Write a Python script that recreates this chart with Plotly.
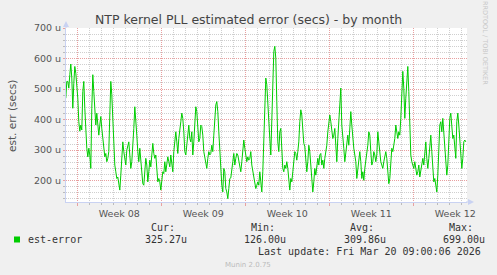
import plotly.graph_objects as go
import pandas as pd

# ---- data (microseconds, 2-hour samples) ----
seg1 = [470, 525, 525, 503, 547, 582, 536, 437, 519, 574,
        552, 519, 470, 393, 362, 382, 366, 492, 525, 437,
        349, 306, 278, 306, 284, 240, 437, 547, 492, 415,
        382, 421, 393, 349, 382, 410, 371, 338, 306, 278,
        289, 262, 273, 295, 415, 525, 481, 393, 316, 251,
        229, 207, 212, 185, 169, 218, 295, 327, 295, 262,
        251, 300, 316, 327, 284, 240, 262, 306, 371, 442,
        404, 349, 295, 262, 306, 273, 229, 190, 185]
seg2 = [229, 273, 251, 196, 229, 267, 245, 284, 322, 289,
        273, 284, 240, 196, 207, 196, 169, 207, 229, 223,
        262, 229, 251, 278, 262, 245, 284, 251, 229, 295,
        338, 360, 327, 289, 338, 382, 393, 421, 404, 360,
        295, 284, 327, 360, 382, 338, 327, 360, 284, 327,
        382, 442, 426, 382, 327, 338, 382, 377, 349, 295,
        273, 251, 240, 273, 295, 284, 289, 316, 295, 349,
        415, 448, 459, 426, 360, 295, 240, 185, 163, 240]
seg3 = [229, 174, 163, 141, 174, 207, 209, 251, 262, 289,
        251, 273, 289, 284, 262, 240, 229, 262, 295, 333,
        306, 284, 262, 278, 267, 273, 295, 251, 229, 223,
        201, 174, 185, 196, 185, 229, 196, 163, 229, 349,
        459, 536, 514, 437, 393, 338, 284, 426, 547, 623,
        640, 601, 459, 327, 295, 360, 371, 306, 240, 229,
        251, 240, 262, 240, 207, 169, 207, 196, 229, 262,
        295, 289, 267, 295, 327, 393, 432, 415, 349, 322,
        311]
seg4 = [273, 229, 262, 316, 295, 251, 196, 163, 196, 240,
        218, 251, 273, 251, 284, 289, 251, 267, 240, 273,
        295, 316, 360, 388, 415, 393, 360, 338, 349, 371,
        316, 262, 338, 382, 437, 503, 382, 327, 306, 262,
        295, 327, 349, 316, 382, 426, 382, 327, 306, 284,
        262, 207, 240, 262, 295, 262, 207, 229, 201, 240,
        262, 295, 316, 360, 349, 295, 251, 262, 295, 284,
        262, 284, 360, 327, 284, 262, 251, 240, 262, 284]
seg5 = [295, 273, 229, 190, 207, 251, 306, 295, 316, 338,
        382, 360, 338, 360, 349, 404, 492, 558, 503, 404,
        470, 536, 574, 492, 382, 284, 262, 251, 240, 262,
        245, 218, 229, 251, 212, 229, 251, 273, 251, 306,
        327, 273, 240, 273, 306, 349, 295, 251, 196, 207,
        185, 163, 218, 306, 382, 393, 360, 404, 349, 306,
        251, 218, 251, 338, 404, 421, 382, 338, 349, 306,
        273, 393, 421, 382, 338, 295, 240, 273, 327, 333,
        327]
est_error_u = seg1 + seg2 + seg3 + seg4 + seg5
last_sample = "2026-03-20 09:00"

y_tick_vals = [200, 300, 400, 500, 600, 700]
y_tick_text = ["200 u", "300 u", "400 u", "500 u", "600 u", "700 u"]
week_starts = ["2026-02-16", "2026-02-23", "2026-03-02", "2026-03-09", "2026-03-16"]
week_label_pos = ["2026-02-19 12:00", "2026-02-26 12:00", "2026-03-05 12:00",
                  "2026-03-12 12:00", "2026-03-19 12:00"]
week_labels = ["Week 08", "Week 09", "Week 10", "Week 11", "Week 12"]

series_name = "est-error"
stat_labels = ["Cur:", "Min:", "Avg:", "Max:"]
stat_values = ["325.27u", "126.00u", "309.86u", "699.00u"]
last_update = "Last update: Fri Mar 20 09:00:06 2026"
title_text = "NTP kernel PLL estimated error (secs) - by month"
y_title = "est. err (secs)"
credit = "Munin 2.0.75"
side_text = "RRDTOOL / TOBI OETIKER"

# ---- geometry ----
W, H = 497, 275
L, R, T, B = 66, 467, 28, 202
X_RANGE = ["2026-02-15 01:24", "2026-03-20 11:24"]
Y_RANGE = [130, 700]


def px(x):
    return (x - L) / (R - L)


def py(y):
    return (B - y) / (B - T)


times = pd.date_range(end=last_sample, periods=len(est_error_u), freq="2h")

GREEN = "#00CC00"
AXIS = "#C9D2F2"
MGRID = "#E8A0A0"
GRID = "#CFCFCF"
TXT = "#333333"
TICK = "#555555"

fig = go.Figure()
fig.add_trace(go.Scatter(x=times, y=est_error_u, mode="lines",
                         line=dict(color=GREEN, width=1), name=series_name,
                         showlegend=False, hoverinfo="skip"))
# invisible helper trace so the label axis (x2) is drawn
fig.add_trace(go.Scatter(x=X_RANGE, y=Y_RANGE, xaxis="x2", mode="markers",
                         marker=dict(opacity=0, size=1), showlegend=False,
                         hoverinfo="skip"))

fig.update_layout(
    width=W, height=H, autosize=False,
    margin=dict(l=L, r=W - R, t=T, b=H - B, pad=0),
    paper_bgcolor="#F0F0F0", plot_bgcolor="#FFFFFF",
    showlegend=False,
    xaxis=dict(type="date", range=X_RANGE, tickmode="array", tickvals=week_starts,
               showticklabels=False, showgrid=True, gridcolor=MGRID, griddash="1px,1px",
               gridwidth=1, zeroline=False, showline=True, linecolor=AXIS, linewidth=1,
               ticks="outside", ticklen=3, tickcolor=MGRID,
               minor=dict(tickmode="linear", tick0="2026-02-16", dtick=86400000,
                          showgrid=True, gridcolor=GRID, griddash="1px,1px",
                          ticks="outside", ticklen=2, tickcolor="#BBBBBB")),
    xaxis2=dict(type="date", range=X_RANGE, overlaying="x", anchor="y", side="bottom",
                tickmode="array", tickvals=week_label_pos, ticktext=week_labels,
                showgrid=False, zeroline=False, showline=False, ticks="",
                ticklabelstandoff=4,
                tickfont=dict(family="DejaVu Sans", size=9.5, color=TICK)),
    yaxis=dict(range=Y_RANGE, tickmode="array", tickvals=y_tick_vals, ticktext=y_tick_text,
               showgrid=True, gridcolor=MGRID, griddash="1px,1px", zeroline=False,
               showline=True, linecolor=AXIS, linewidth=1,
               ticks="outside", ticklen=2, tickcolor=MGRID,
               tickfont=dict(family="DejaVu Sans", size=9.5, color=TICK),
               minor=dict(tickmode="linear", tick0=0, dtick=20, showgrid=True,
                          gridcolor=GRID, griddash="1px,1px",
                          ticks="outside", ticklen=2, tickcolor="#BBBBBB")),
)

# axis arrows
fig.add_shape(type="path", xref="paper", yref="paper",
              path=f"M {px(63)},{py(27)} L {px(69)},{py(27)} L {px(66)},{py(21)} Z",
              fillcolor=AXIS, line=dict(width=0))
fig.add_shape(type="line", xref="paper", yref="paper", x0=px(66), x1=px(66),
              y0=py(28), y1=py(26), line=dict(color=AXIS, width=1))
fig.add_shape(type="path", xref="paper", yref="paper",
              path=f"M {px(468)},{py(199)} L {px(468)},{py(205)} L {px(474)},{py(202)} Z",
              fillcolor=AXIS, line=dict(width=0))
fig.add_shape(type="line", xref="paper", yref="paper", x0=px(466), x1=px(469),
              y0=py(202), y1=py(202), line=dict(color=AXIS, width=1))

# legend swatch
fig.add_shape(type="rect", xref="paper", yref="paper",
              x0=px(14), x1=px(20), y0=py(242.5), y1=py(236.5),
              fillcolor=GREEN, line=dict(width=0))


def ann(text, x, y, xanchor="left", size=10, color=TXT, family="DejaVu Sans Mono", angle=0):
    fig.add_annotation(text=text, x=px(x), y=py(y), xref="paper", yref="paper",
                       xanchor=xanchor, yanchor="middle", showarrow=False,
                       textangle=angle, font=dict(family=family, size=size, color=color))


ann(title_text, 248, 19, xanchor="center", size=12.5, color="#444444", family="DejaVu Sans")
ann(y_title, 12, 116, xanchor="center", size=10.5, color=TICK, family="DejaVu Sans", angle=-90)
ann(side_text, 485, 43, xanchor="center", size=6.5, color="#C8C8C8", family="DejaVu Sans", angle=90)

ann(series_name, 26, 239.5)
label_x = [149, 249, 348, 447]
value_x = [143, 242, 342, 441]
for lab, val, lx, vx in zip(stat_labels, stat_values, label_x, value_x):
    ann(lab, lx, 227.5)
    ann(val, vx, 239.5)
ann(last_update, 483, 251.5, xanchor="right")
ann(credit, 248, 264.5, xanchor="center", size=7, color="#BBBBBB", family="DejaVu Sans")

fig.write_html("out.html")
